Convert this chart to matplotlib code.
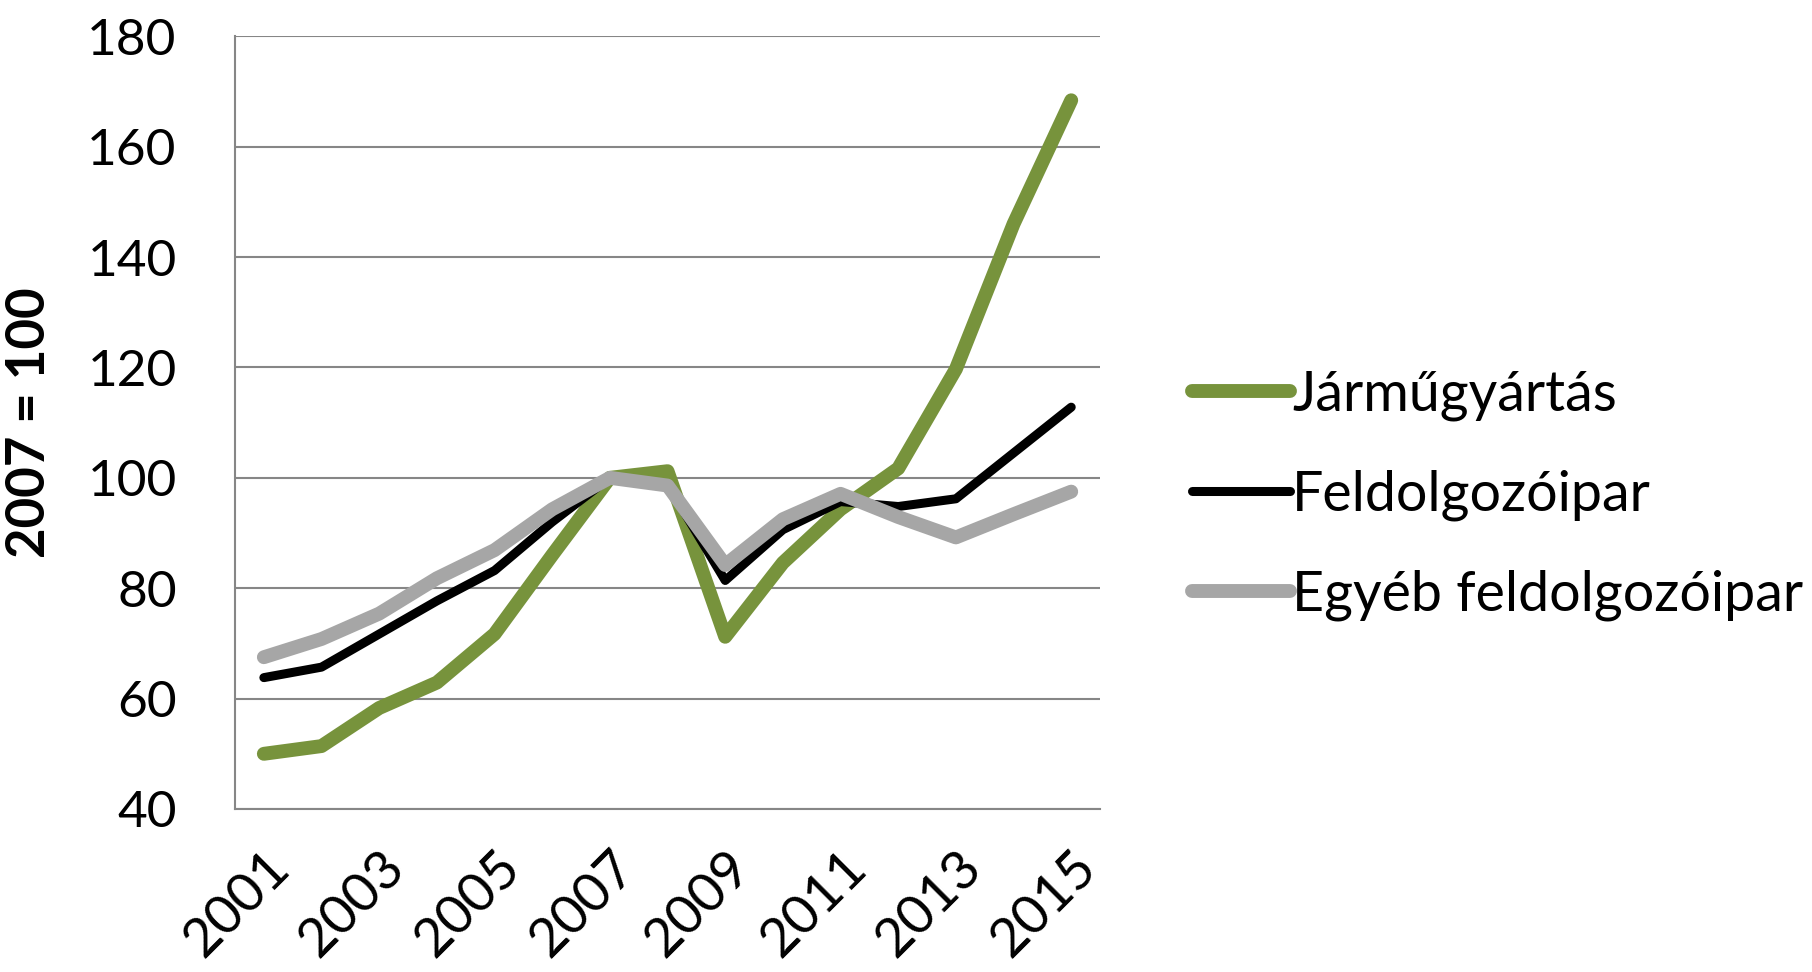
import matplotlib
import matplotlib.pyplot as plt

matplotlib.use("Agg")

years = list(range(2001, 2016))
jarmu = [50.0, 51.4, 58.3, 62.9, 71.7, 86.0, 100.0, 101.2, 71.2, 84.6, 94.3, 101.7, 119.7, 146.0, 168.4]
feldolg = [63.8, 65.7, 71.7, 77.7, 83.2, 92.0, 100.0, 98.8, 81.4, 90.6, 95.7, 94.8, 96.2, 104.5, 112.8]
egyeb = [67.5, 70.8, 75.4, 81.8, 86.9, 94.3, 100.0, 98.6, 84.2, 92.5, 97.1, 92.9, 89.2, 93.4, 97.5]
labels = ["Járműgyártás", "Feldolgozóipar", "Egyéb feldolgozóipar"]
tick_years = [str(y) if y % 2 == 1 else "" for y in years]

plt.rcParams["font.family"] = ["Lato", "DejaVu Sans"]

fig = plt.figure(figsize=(18.12, 9.72), dpi=100)
ax = fig.add_axes([0.1297, 0.1677, 0.4774, 0.795])

x = list(range(len(years)))
style = dict(solid_capstyle="round", solid_joinstyle="round")
ax.plot(x, jarmu, color="#77933C", linewidth=10, label=labels[0], zorder=3, **style)
ax.plot(x, feldolg, color="#000000", linewidth=6.5, label=labels[1], zorder=4, **style)
ax.plot(x, egyeb, color="#A6A6A6", linewidth=10, label=labels[2], zorder=5, **style)

ax.set_xlim(-0.5, len(years) - 0.5)
ax.set_ylim(40, 180)
ax.set_yticks(range(40, 181, 20))
ax.yaxis.grid(True, color="#868686", linewidth=1.5)
ax.set_axisbelow(True)
for side in ["top", "right"]:
    ax.spines[side].set_visible(False)
for side in ["left", "bottom"]:
    ax.spines[side].set_color("#868686")
    ax.spines[side].set_linewidth(1.5)

ax.set_xticks(x)
ax.set_xticklabels(tick_years, rotation=45, ha="right", rotation_mode="anchor", fontsize=39)
ax.tick_params(axis="both", length=0)
ax.tick_params(axis="x", pad=24)
ax.tick_params(axis="y", labelsize=37, pad=42)

ax.set_ylabel("2007 = 100", fontsize=38, fontweight="bold")
ax.yaxis.set_label_coords(-0.209, 0.5)

ax.legend(loc="center left", bbox_to_anchor=(1.106, 0.406), frameon=False,
          prop={"size": 40}, handlelength=1.76, handletextpad=0.05,
          labelspacing=0.88, borderpad=0, borderaxespad=0)

fig.savefig("out.png", dpi=100)
